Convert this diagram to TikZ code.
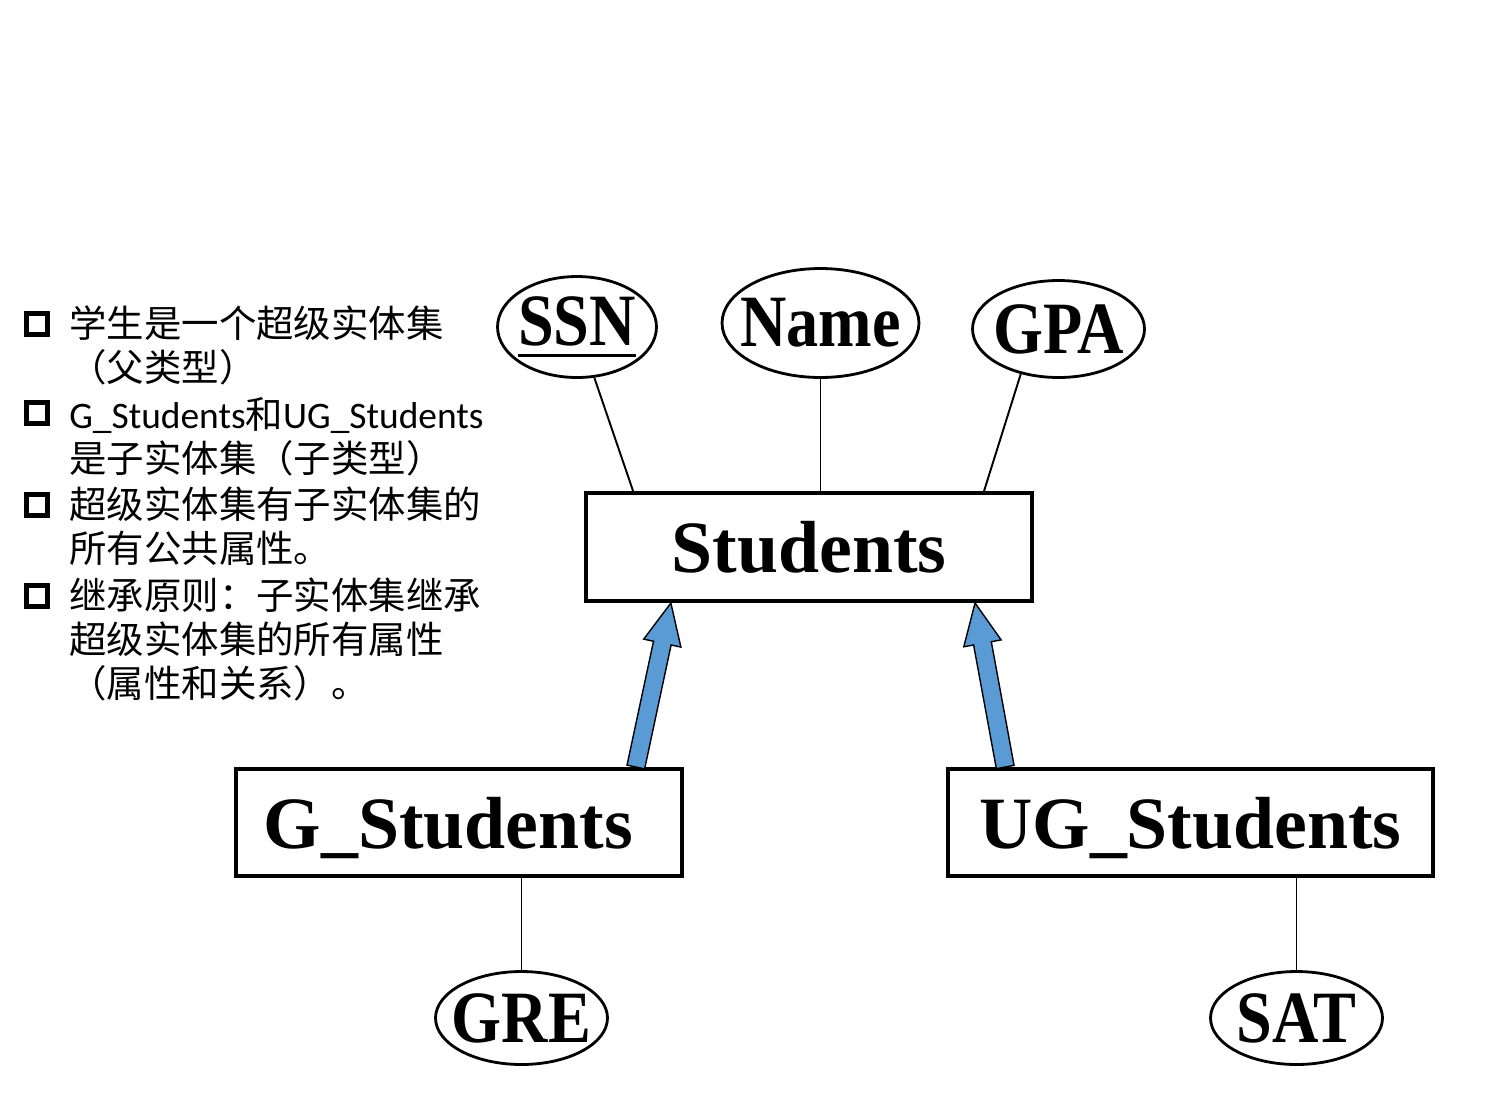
\documentclass[tikz,border=0pt]{standalone}
\usepackage{fontspec}
\usepackage{graphicx}
\setmainfont{Liberation Serif}
\newfontfamily\cjk{Noto Sans CJK SC}
\newfontfamily\lat{Carlito}
\usetikzlibrary{shapes.geometric,calc}
\definecolor{isablue}{HTML}{5B9BD5}
\newcommand\attrtxt[1]{\makebox[0pt]{\scalebox{0.87}[1]{#1}}}
\newcommand\keyul[1]{\vtop{\hbox{#1}\kern4.3pt\hrule height1.7pt}}
\newcommand\isaarrow[2]{%
  \coordinate (neck) at ($(#2)!0.82cm!(#1)$);
  \draw[isa] ($(#1)!0.18cm!90:(#2)$) -- ($(neck)!0.18cm!90:(#2)$)
    -- ($(neck)!0.38cm!90:(#2)$) -- (#2) -- ($(neck)!0.38cm!-90:(#2)$)
    -- ($(neck)!0.18cm!-90:(#2)$) -- ($(#1)!0.18cm!-90:(#2)$) -- cycle;}
\begin{document}
\begin{tikzpicture}[x=0.02cm,y=-0.02cm,
    entity/.style={draw,line width=2.3pt,rectangle,inner sep=0pt,text depth=0pt,
      font=\fontsize{42}{48}\selectfont\bfseries},
    attr/.style={draw,line width=1.6pt,ellipse,inner sep=0pt,
      font=\fontsize{42}{48}\selectfont\bfseries},
    item/.style={anchor=base west,align=left,inner sep=0pt,
      font=\cjk\fontsize{21.3}{24.9}\selectfont},
    sq/.style={draw,line width=2.3pt,minimum size=0.42cm,inner sep=0pt},
    isa/.style={fill=isablue,draw=black,line width=0.8pt,line join=miter},
    conn/.style={line width=1.1pt}]
  \useasboundingbox (0,0) rectangle (1500,1093);

  % bullet list (base = last line)
  \node[sq] (b1) at (37,324) {};
  \node[sq] (b2) at (37,413) {};
  \node[sq] (b3) at (37,505) {};
  \node[sq] (b4) at (37,596) {};
  \node[item] (it1) at (69,381) {学生是一个超级实体集\\（父类型）};
  \node[item] (it2) at (69,472) {{\lat G\_Students}和{\lat UG\_Students}\\是子实体集（子类型）};
  \node[item] (it3) at (69,562) {超级实体集有子实体集的\\所有公共属性。};
  \node[item] (it4) at (69,697) {继承原则：子实体集继承\\超级实体集的所有属性\\（属性和关系）。};

  % entity sets
  \node[entity,minimum width=8.92cm,minimum height=2.16cm] (stud) at (809,547) {Students};
  \node[entity,minimum width=8.92cm,minimum height=2.14cm] (gstud) at (459,822.5) {G\_Students\kern0.42cm};
  \node[entity,minimum width=9.7cm,minimum height=2.14cm] (ugstud) at (1190.5,822.5) {UG\_Students};

  % attributes
  \node[attr,minimum width=3.18cm,minimum height=2.02cm] (ssn) at (577,327) {\attrtxt{\keyul{SSN}}};
  \node[attr,minimum width=3.94cm,minimum height=2.18cm] (name) at (820.5,323) {\attrtxt{Name}};
  \node[attr,minimum width=3.44cm,minimum height=1.94cm] (gpa) at (1058.5,329) {\attrtxt{GPA}};
  \node[attr,minimum width=3.44cm,minimum height=1.86cm] (gre) at (521.5,1018) {\attrtxt{GRE}};
  \node[attr,minimum width=3.44cm,minimum height=1.86cm] (sat) at (1296.5,1018) {\attrtxt{SAT}};

  \draw[conn] (ssn) -- ($(stud.north west)!0.109!(stud.north east)$);
  \draw[conn] (name.south) -- (name.south |- stud.north);
  \draw[conn] (gpa.230) -- ($(stud.north west)!0.889!(stud.north east)$);
  \draw[conn] (gre.north) -- (gre.north |- gstud.south);
  \draw[conn] (sat.north) -- (sat.north |- ugstud.south);

  % isa arrows
  \coordinate (gfoot) at ($(gstud.north west)!0.893!(gstud.north east)$);
  \coordinate (gtip) at ($(stud.south west)!0.193!(stud.south east)$);
  \coordinate (ugfoot) at ($(ugstud.north west)!0.121!(ugstud.north east)$);
  \coordinate (ugtip) at ($(stud.south west)!0.869!(stud.south east)$);
  \isaarrow{gfoot}{gtip}
  \isaarrow{ugfoot}{ugtip}
\end{tikzpicture}
\end{document}
